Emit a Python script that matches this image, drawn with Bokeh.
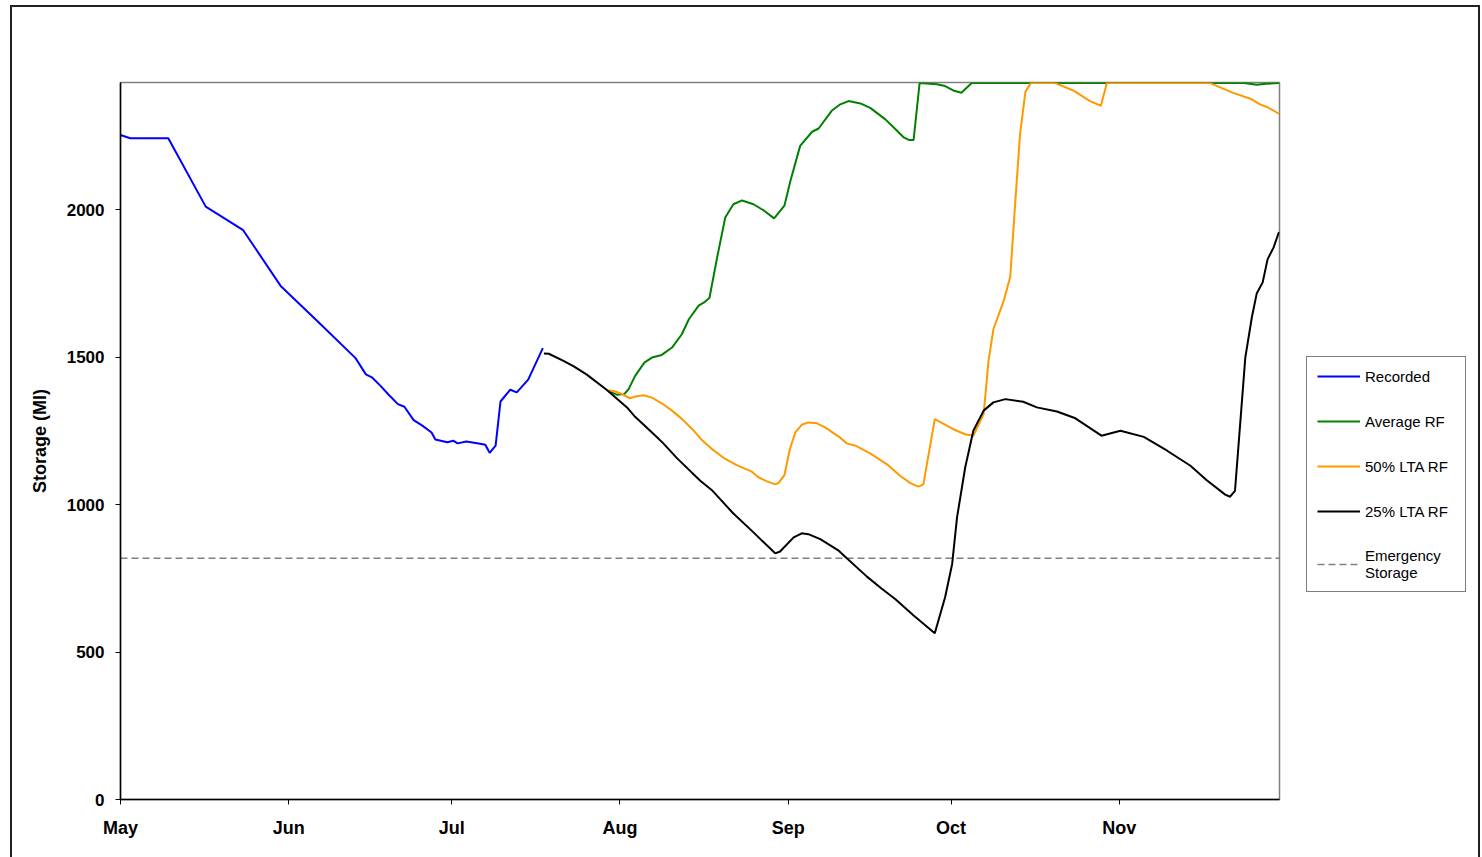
from bokeh.plotting import figure
from bokeh.models import (Range1d, FixedTicker, Legend, LegendItem)
from bokeh.layouts import row
from bokeh.embed import file_html
from bokeh.resources import INLINE

# ---- data (x = days since 1 May) ----
month_ticks = [0, 31, 61, 92, 123, 153, 184]
month_labels = ["May", "Jun", "Jul", "Aug", "Sep", "Oct", "Nov"]
y_ticks = [0, 500, 1000, 1500, 2000]

recorded_day = [0, 1.8, 8.8, 15.7, 22.6, 29.5, 36.2, 43.3, 45.2, 46.3, 47.9, 49.4, 51.1, 52.3, 54.0,
                55.6, 57.3, 58.0, 60.2, 61.3, 62.1, 63.7, 65.7, 67.2, 68.0, 69.1, 70.0, 71.8, 73.0,
                75.1, 77.8]
recorded_ml = [2254, 2243, 2243, 2011, 1931, 1742, 1624, 1497, 1442, 1432, 1403, 1373, 1341, 1332, 1287,
               1268, 1245, 1221, 1212, 1217, 1208, 1214, 1208, 1203, 1176, 1200, 1350, 1390, 1381,
               1424, 1531]

avg_day = [89.9, 91.4, 92.8, 93.6, 94.8, 96.5, 97.9, 99.7, 101.6, 103.4, 104.7, 106.5, 107.5, 108.5,
           109.9, 111.4, 112.9, 114.5, 116.6, 118.5, 120.4, 122.3, 123.4, 125.2, 127.4, 128.6, 131.0,
           132.6, 134.1, 136.3, 138.1, 140.9, 143.0, 144.2, 145.2, 146.1, 147.2, 150.4, 151.9, 153.4,
           154.9, 156.8, 207.0, 209.3, 211.0, 213.4]
avg_ml = [1386, 1373, 1375, 1392, 1437, 1482, 1499, 1508, 1533, 1578, 1629, 1675, 1686, 1702,
          1838, 1974, 2019, 2032, 2019, 1998, 1971, 2014, 2098, 2217, 2265, 2276, 2336,
          2358, 2369, 2361, 2346, 2307, 2269, 2247, 2237, 2237, 2430, 2426, 2420, 2405,
          2397, 2430, 2430, 2424, 2428, 2430]

lta50_day = [89.9, 91.2, 92.4, 93.8, 95.1, 96.4, 97.9, 99.7, 101.6, 103.4, 105.3, 107.1, 109.2, 111.4,
             113.5, 116.3, 117.5, 119.1, 120.6, 121.2, 122.3, 123.3, 124.3, 125.5, 126.7, 128.3, 129.8,
             132.3, 133.8, 135.4, 138.1, 141.2, 143.6, 145.5, 147.0, 147.9, 150.0, 153.4, 155.6, 157.1,
             159.0, 159.9, 160.8, 162.7, 163.9, 164.8, 165.7, 166.7, 167.7, 172.2, 175.5, 178.6, 180.6,
             181.7, 200.7, 205.0, 208.4, 209.9, 211.2, 213.4]
lta50_ml = [1388, 1384, 1375, 1361, 1368, 1371, 1363, 1344, 1319, 1291, 1257, 1219, 1185, 1155,
            1134, 1112, 1093, 1079, 1069, 1073, 1100, 1188, 1245, 1271, 1279, 1276, 1262,
            1231, 1208, 1200, 1174, 1137, 1098, 1073, 1061, 1069, 1290, 1256, 1239, 1234,
            1307, 1488, 1595, 1692, 1773, 2019, 2256, 2401, 2430, 2430, 2405, 2369, 2353,
            2430, 2430, 2397, 2375, 2358, 2349, 2326]

lta25_day = [78, 78.9, 81.6, 83.5, 85.9, 89.6, 93.3, 94.8, 98.2, 100.0, 102.5, 106.8, 108.9, 112.9,
             116.6, 120.6, 121.5, 124.0, 125.5, 126.7, 128.9, 132.3, 133.8, 137.5, 140.3, 142.7, 146.1,
             150.0, 151.9, 153.2, 154.1, 155.6, 157.1, 159.0, 160.8, 163.0, 166.3, 168.8, 172.5, 175.9,
             180.7, 184.2, 188.5, 192.8, 197.1, 200.1, 203.5, 204.4, 205.3, 207.2, 208.4, 209.3, 210.4,
             211.3, 212.4, 213.4]
lta25_ml = [1513, 1512, 1488, 1469, 1441, 1389, 1330, 1298, 1240, 1208, 1158, 1081, 1050, 970,
            906, 835, 841, 889, 903, 900, 883, 844, 818, 756, 714, 680, 624,
            564, 686, 799, 957, 1126, 1251, 1319, 1347, 1358, 1349, 1330, 1316, 1293,
            1234, 1251, 1230, 1183, 1132, 1083, 1034, 1027, 1047, 1499, 1635, 1716, 1754,
            1832, 1872, 1925]

emergency_day = [0, 213.5]
emergency_ml = [818, 818]

series_labels = ["Recorded", "Average RF", "50% LTA RF", "25% LTA RF", "Emergency\nStorage"]
series_x = [recorded_day, avg_day, lta50_day, lta25_day, emergency_day]
series_y = [recorded_ml, avg_ml, lta50_ml, lta25_ml, emergency_ml]

x_start, x_end = 0, 213.5
y_start, y_end = 0, 2432

FONT = "Liberation Sans"
styles_line = [
    dict(line_color="#0000FF", line_width=2),
    dict(line_color="#008000", line_width=2),
    dict(line_color="#FF9900", line_width=2),
    dict(line_color="#000000", line_width=2),
    dict(line_color="#808080", line_width=1.5, line_dash="7 4"),
]

# ---------------- main chart ----------------
p = figure(width=1269, height=850, output_backend="svg", toolbar_location=None,
           x_range=Range1d(x_start, x_end), y_range=Range1d(y_start, y_end),
           min_border_left=108, min_border_right=2, min_border_top=75, min_border_bottom=58)
p.background_fill_color = "white"
p.border_fill_color = "white"
p.outline_line_color = "#808080"
p.outline_line_width = 1.5
p.xgrid.visible = False
p.ygrid.visible = False

# draw emergency line first (beneath), then the series
p.line(series_x[4], series_y[4], **styles_line[4])
for i in range(4):
    p.line(series_x[i], series_y[i], **styles_line[i])

xa = p.xaxis[0]
xa.ticker = FixedTicker(ticks=month_ticks)
xa.major_label_overrides = {t: l for t, l in zip(month_ticks, month_labels)}
xa.minor_tick_line_color = None
xa.major_tick_in = 0
xa.major_tick_out = 5
xa.axis_line_color = "black"
xa.axis_line_width = 1.5
xa.major_label_text_font = FONT
xa.major_label_text_font_style = "bold"
xa.major_label_text_font_size = "18px"
xa.major_label_text_color = "black"
xa.major_label_standoff = 13

ya = p.yaxis[0]
ya.ticker = FixedTicker(ticks=y_ticks)
ya.minor_tick_line_color = None
ya.major_tick_in = 0
ya.major_tick_out = 5
ya.axis_line_color = "black"
ya.axis_line_width = 1.5
ya.major_label_text_font = FONT
ya.major_label_text_font_style = "bold"
ya.major_label_text_font_size = "17px"
ya.major_label_text_color = "black"
ya.major_label_standoff = 11
ya.axis_label = "Storage (Ml)"
ya.axis_label_text_font = FONT
ya.axis_label_text_font_style = "bold"
ya.axis_label_text_font_size = "18px"
ya.axis_label_text_color = "black"
ya.axis_label_standoff = 14

# ---------------- legend panel (series repeated out of view, used as legend proxies) ----------------
pl = figure(width=197, height=850, output_backend="svg", toolbar_location=None,
            x_range=Range1d(-2, -1), y_range=Range1d(-2, -1),
            min_border_left=0, min_border_right=0, min_border_top=0, min_border_bottom=0)
pl.axis.visible = False
pl.grid.visible = False
pl.outline_line_color = None
pl.background_fill_color = "white"
pl.border_fill_color = "white"

items = []
for lab, xs, ys, st in zip(series_labels, series_x, series_y, styles_line):
    r = pl.line(xs, ys, **st)
    items.append(LegendItem(label=lab, renderers=[r]))

legend = Legend(items=items, location=(25, 207))
legend.label_text_font = FONT
legend.label_text_font_size = "15px"
legend.label_text_color = "black"
legend.glyph_width = 43
legend.glyph_height = 18
legend.label_height = 18
legend.label_width = 90
legend.spacing = 27
legend.padding = 10
legend.margin = 0
legend.label_standoff = 5
legend.border_line_color = "black"
legend.border_line_width = 1
legend.background_fill_color = "white"
legend.background_fill_alpha = 1
pl.add_layout(legend, "center")

layout = row(p, pl,
             styles={"border-top": "2px solid #222222", "border-left": "2px solid #222222",
                     "border-right": "2px solid #222222", "margin-left": "10px",
                     "margin-top": "5px"})

open("out.html", "w").write(file_html(layout, INLINE))
